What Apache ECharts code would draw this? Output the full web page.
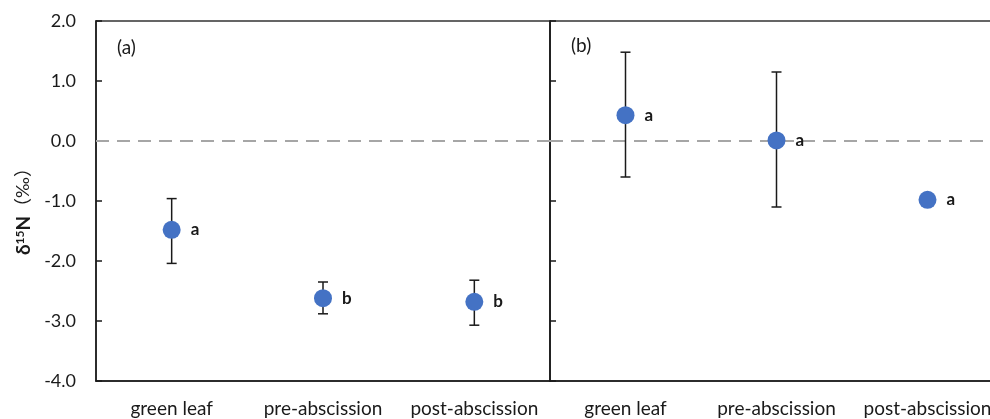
<!DOCTYPE html>
<html>
<head>
<meta charset="utf-8">
<script src="https://cdn.jsdelivr.net/npm/echarts@6/dist/echarts.min.js"></script>
<style>
  html, body { margin: 0; padding: 0; background: #fff; }
  #chart { width: 990px; height: 419px; }
</style>
</head>
<body>
<div id="chart"></div>
<script>
var categories = ["green leaf", "pre-abscission", "post-abscission"];

// panel (a)
var meanA = [-1.48, -2.62, -2.68];
var lowA = [-2.04, -2.88, -3.07];
var highA = [-0.96, -2.35, -2.32];
var lettersA = ["a", "b", "b"];

// panel (b)
var meanB = [0.43, 0.01, -0.98];
var lowB = [-0.60, -1.10, -0.98];
var highB = [1.48, 1.15, -0.98];
var lettersB = ["a", "a", "a"];

var yTicks = [-4, -3, -2, -1, 0, 1, 2];

var FONT = 'Lato, "Noto Sans CJK SC", sans-serif';
var chart = echarts.init(document.getElementById("chart"));

function errBars(low, high) {
  return low.map(function (v, i) { return [i, v, high[i]]; });
}

function renderErr(params, api) {
  var lo = api.coord([api.value(0), api.value(1)]);
  var hi = api.coord([api.value(0), api.value(2)]);
  var cap = 5;
  var st = { stroke: "#1a1a1a", lineWidth: 1.5 };
  return {
    type: "group",
    children: [
      { type: "line", shape: { x1: lo[0], y1: lo[1], x2: hi[0], y2: hi[1] }, style: st },
      { type: "line", shape: { x1: lo[0] - cap, y1: lo[1], x2: lo[0] + cap, y2: lo[1] }, style: st },
      { type: "line", shape: { x1: hi[0] - cap, y1: hi[1], x2: hi[0] + cap, y2: hi[1] }, style: st }
    ]
  };
}

function points(mean, letters) {
  return mean.map(function (v, i) { return { value: [i, v], letter: letters[i] }; });
}

var zeroLine = {
  silent: true,
  symbol: ["none", "none"],
  label: { show: false },
  lineStyle: { color: "#a6a6a6", type: [13, 8], width: 2, opacity: 1 },
  emphasis: { disabled: true },
  data: [{ yAxis: 0 }]
};

var xAxisBase = {
  type: "category",
  data: categories,
  boundaryGap: true,
  axisLine: { onZero: false, lineStyle: { color: "#1a1a1a", width: 1.5 } },
  axisTick: { show: false },
  axisLabel: { color: "#1a1a1a", fontSize: 19, fontFamily: FONT, margin: 18, interval: 0, hideOverlap: false }
};

var yAxisBase = {
  type: "value",
  min: yTicks[0],
  max: yTicks[yTicks.length - 1],
  interval: 1,
  splitLine: { show: false },
  axisLine: { show: true, onZero: false, lineStyle: { color: "#1a1a1a", width: 1.5 } },
  axisTick: { show: true, inside: true, length: 6, lineStyle: { color: "#1a1a1a", width: 1.5 } }
};

function scatterSeries(idx, mean, letters) {
  return {
    type: "scatter", xAxisIndex: idx, yAxisIndex: idx, z: 4,
    symbolSize: 18,
    itemStyle: { color: "#4472c4", opacity: 1 },
    label: {
      show: true, position: "right", distance: 10,
      formatter: function (p) { return p.data.letter; },
      fontSize: 17, fontWeight: "bold", color: "#1a1a1a", fontFamily: FONT
    },
    markLine: Object.assign({ z: 1 }, zeroLine),
    data: points(mean, letters)
  };
}

var option = {
  animation: false,
  backgroundColor: "#fff",
  textStyle: { fontFamily: FONT },
  grid: [
    { left: 96, top: 21, width: 454, height: 360, show: true, borderColor: "#333", borderWidth: 1.5, outerBoundsMode: "none", containLabel: false },
    { left: 550, top: 21, width: 453, height: 360, show: true, borderColor: "#333", borderWidth: 1.5, outerBoundsMode: "none", containLabel: false }
  ],
  graphic: [
    { type: "text", left: 117, top: 38, style: { text: "(a)", fontSize: 19, fontFamily: FONT, fill: "#1a1a1a" } },
    { type: "text", left: 571, top: 36, style: { text: "(b)", fontSize: 19, fontFamily: FONT, fill: "#1a1a1a" } }
  ],
  xAxis: [
    Object.assign({}, xAxisBase, { gridIndex: 0 }),
    Object.assign({}, xAxisBase, { gridIndex: 1 })
  ],
  yAxis: [
    Object.assign({}, yAxisBase, {
      gridIndex: 0,
      name: "{b|δ}{s|15}{b|N}{r|（‰）}",
      nameLocation: "middle",
      nameGap: 63,
      nameRotate: 90,
      nameTextStyle: {
        padding: [0, 12, 0, 0],
        rich: {
          b: { fontSize: 19, fontWeight: "bold", fontFamily: FONT, color: "#1a1a1a" },
          s: { fontSize: 12, fontWeight: "bold", fontFamily: FONT, color: "#1a1a1a", verticalAlign: "top", padding: [0, 0, 7, 0] },
          r: { fontSize: 18, fontFamily: FONT, color: "#1a1a1a" }
        }
      },
      axisLabel: {
        color: "#1a1a1a", fontSize: 18, fontFamily: FONT, margin: 20,
        formatter: function (v) { return v.toFixed(1); }
      }
    }),
    Object.assign({}, yAxisBase, { gridIndex: 1, axisLabel: { show: false } })
  ],
  series: [
    {
      type: "custom", xAxisIndex: 0, yAxisIndex: 0, z: 3,
      renderItem: renderErr, data: errBars(lowA, highA)
    },
    {
      type: "custom", xAxisIndex: 1, yAxisIndex: 1, z: 3,
      renderItem: renderErr, data: errBars(lowB, highB)
    },
    scatterSeries(0, meanA, lettersA),
    scatterSeries(1, meanB, lettersB)
  ]
};

chart.setOption(option);
</script>
</body>
</html>
